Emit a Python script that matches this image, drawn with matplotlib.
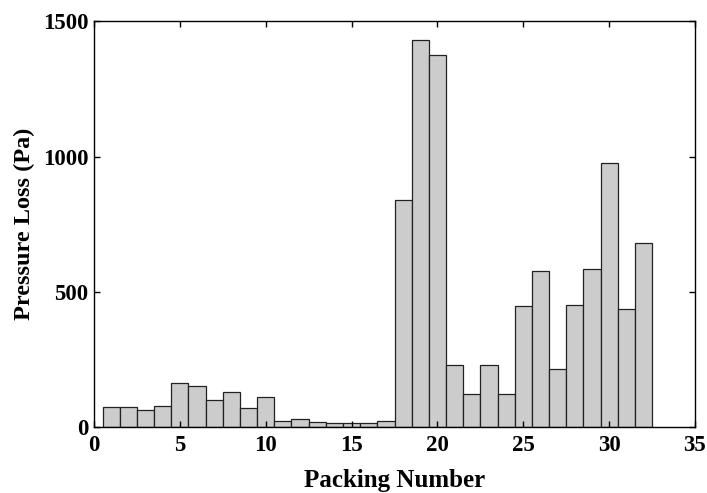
import matplotlib
matplotlib.use("Agg")
import matplotlib.pyplot as plt

packing = list(range(1, 33))
pressure_loss = [73, 73, 63, 78, 163, 152, 101, 130, 69, 110,
                 22, 30, 20, 16, 16, 16, 22, 841, 1432, 1375,
                 230, 122, 230, 122, 446, 577, 215, 452, 583, 975,
                 437, 681]
xticks = [0, 5, 10, 15, 20, 25, 30, 35]
yticks = [0, 500, 1000, 1500]

plt.rcParams['font.family'] = ['Liberation Serif', 'DejaVu Serif']
plt.rcParams['font.weight'] = 'bold'

fig = plt.figure(figsize=(7.07, 4.93), dpi=100)
ax = fig.add_axes([94/707, 66/493, (695-94)/707, (427-21.5)/493])
ax.bar(packing, pressure_loss, width=1.0, color='#cccccc', edgecolor='#222222', linewidth=0.9)
ax.set_xlim(0, 35)
ax.set_ylim(0, 1500)
ax.set_xticks(xticks)
ax.set_yticks(yticks)
ax.tick_params(direction='in', top=True, right=True, length=4, width=1, labelsize=16.5)
ax.tick_params(axis='x', pad=6)
ax.tick_params(axis='y', pad=4)
for lab in ax.get_xticklabels() + ax.get_yticklabels():
    lab.set_fontweight('bold')
for s in ax.spines.values():
    s.set_linewidth(1.0)
ax.set_xlabel('Packing Number', fontsize=18, fontweight='bold', labelpad=9)
ax.set_ylabel('Pressure Loss (Pa)', fontsize=17.5, fontweight='bold', labelpad=6)
fig.savefig('out.png', dpi=100)
